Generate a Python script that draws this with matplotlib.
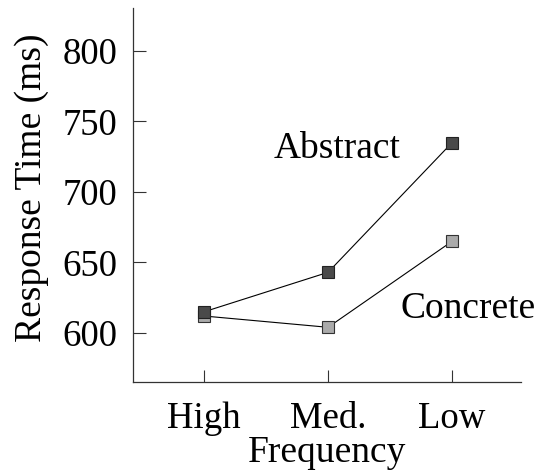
import matplotlib.pyplot as plt

# data
freq = ["High", "Med.", "Low"]
abstract_rt = [615, 643, 735]
concrete_rt = [612, 604, 665]
yticks = [600, 650, 700, 750, 800]

plt.rcParams['font.family'] = ['Liberation Serif', 'DejaVu Serif']

fig = plt.figure(figsize=(5.39, 4.72), dpi=100)
ax = fig.add_axes([0.2468, 0.1907, 0.7198, 0.7923])

x = range(len(freq))
ax.plot(x, concrete_rt, color='black', lw=0.8, marker='s', markersize=9,
        markerfacecolor='#aaaaaa', markeredgecolor='#333333', markeredgewidth=0.8)
ax.plot(x, abstract_rt, color='black', lw=0.8, marker='s', markersize=9,
        markerfacecolor='#4a4a4a', markeredgecolor='#222222', markeredgewidth=0.8)

ax.text(1.07, 731, "Abstract", fontsize=27, ha='center', va='center')
ax.text(2.13, 617.5, "Concrete", fontsize=27, ha='center', va='center')

ax.set_xlim(-0.573, 2.556)
ax.set_ylim(565.2, 830.5)
ax.set_xticks(list(x))
ax.set_xticklabels(freq)
ax.set_yticks(yticks)

for s in ['top', 'right']:
    ax.spines[s].set_visible(False)
for s in ['left', 'bottom']:
    ax.spines[s].set_linewidth(0.9)
    ax.spines[s].set_color('#333333')

ax.tick_params(axis='y', direction='in', length=9, width=0.8, pad=11,
               labelsize=26.5, color='#333333')
ax.tick_params(axis='x', direction='in', length=9, width=0.8, pad=14,
               labelsize=26.5, color='#333333')

ax.set_xlabel("Frequency", fontsize=27, labelpad=0)
ax.set_ylabel("Response Time (ms)", fontsize=27)
ax.yaxis.set_label_coords(-0.216, 0.52)

fig.savefig("out.png", dpi=100)
